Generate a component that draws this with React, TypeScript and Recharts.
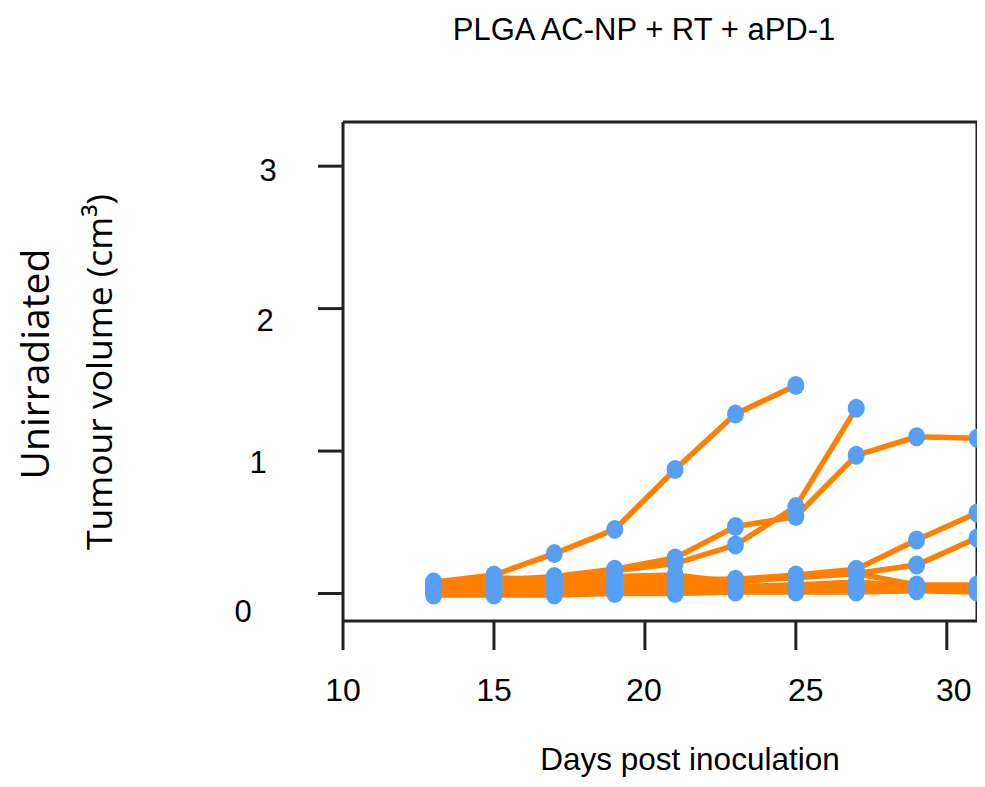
import React from 'react';
import { LineChart, Line, XAxis, YAxis, ReferenceLine } from 'recharts';

const days = [13, 15, 17, 19, 21, 23, 25, 27, 29, 31];
const mouseA = [0.08, 0.13, 0.28, 0.45, 0.87, 1.26, 1.46, null, null, null];
const mouseB = [0.06, 0.1, 0.11, 0.16, 0.21, 0.34, 0.61, 1.3, null, null];
const mouseC = [0.05, 0.09, 0.12, 0.17, 0.25, 0.47, 0.54, 0.97, 1.1, 1.09];
const mouseD = [0.04, 0.07, 0.08, 0.09, 0.1, 0.1, 0.13, 0.17, 0.375, 0.565];
const mouseE = [0.03, 0.05, 0.06, 0.07, 0.08, 0.09, 0.11, 0.14, 0.2, 0.39];
const mouseF = [0.08, 0.11, 0.1, 0.12, 0.13, 0.08, 0.12, 0.14, 0.06, 0.06];
const mouseG = [0.05, 0.07, 0.07, 0.06, 0.06, 0.05, 0.06, 0.08, 0.05, 0.05];
const mouseH = [0.02, 0.03, 0.04, 0.03, 0.04, 0.04, 0.04, 0.05, 0.04, 0.03];
const mouseI = [0.01, 0.01, 0.02, 0.02, 0.02, 0.03, 0.03, 0.03, 0.03, 0.02];
const mouseJ = [-0.01, -0.01, -0.01, 0.0, 0.0, 0.01, 0.01, 0.01, 0.02, 0.01];

const mice = [mouseA, mouseB, mouseC, mouseD, mouseE, mouseF, mouseG, mouseH, mouseI, mouseJ];
const xTicks = [10, 15, 20, 25, 30];
const yTicks = [0, 1, 2, 3];
const xDomain = [10, 31];
const yDomain = [-0.193, 3.31];

const title = 'PLGA AC-NP + RT + aPD-1';
const xLabel = 'Days post inoculation';
const yLabelTop = 'Unirradiated';
const yLabelBottom = 'Tumour volume (cm³)';

const data = days.map((d, i) => {
  const row: any = { day: d };
  mice.forEach((m, k) => {
    row['m' + k] = m[i];
  });
  return row;
});

const ORANGE = '#FF8000';
const BLUE = '#579FF5';
const AXIS = '#222';

const BlueDot = (props: any) => {
  const { cx, cy, value } = props;
  if (cx == null || cy == null || value == null || isNaN(cy)) return <g />;
  return <ellipse cx={cx} cy={cy} rx={8.5} ry={9.5} fill={BLUE} />;
};

const xOffsets: Record<number, number> = { 10: 0, 15: 0, 20: -1, 25: 10, 30: 7 };
const yOffsets: Record<number, [number, number]> = { 0: [-75, 18], 1: [-60, 11], 2: [-53, 12], 3: [-50, 4] };

const XTick = (props: any) => {
  const { x, y, payload } = props;
  const dx = xOffsets[payload.value] ?? 0;
  return (
    <text x={x + dx} y={y + 40} textAnchor="middle" dominantBaseline="central"
      fontFamily="'Liberation Sans', Arial, sans-serif" fontSize={32} fill="#000">
      {payload.value}
    </text>
  );
};

const YTick = (props: any) => {
  const { x, y, payload } = props;
  const off = yOffsets[payload.value] ?? [-50, 0];
  return (
    <text x={x + off[0]} y={y + off[1]} textAnchor="middle" dominantBaseline="central"
      fontFamily="'Liberation Sans', Arial, sans-serif" fontSize={31} fill="#000">
      {payload.value}
    </text>
  );
};

const textBase: React.CSSProperties = {
  position: 'absolute',
  whiteSpace: 'nowrap',
  color: '#000',
  lineHeight: 1,
};

export default function App() {
  return (
    <div style={{ position: 'relative', width: 977, height: 779 }}>
      <LineChart width={977} height={779} data={data}
        margin={{ top: 114, right: 8, left: 0, bottom: 106 }}>
        <XAxis dataKey="day" type="number" domain={xDomain} ticks={xTicks}
          allowDataOverflow={false} height={60} tickSize={29} tickMargin={0}
          axisLine={{ stroke: AXIS, strokeWidth: 3 }}
          tickLine={{ stroke: AXIS, strokeWidth: 3 }} tick={<XTick />} />
        <YAxis type="number" domain={yDomain} ticks={yTicks} width={335}
          tickSize={25} tickMargin={0}
          axisLine={{ stroke: AXIS, strokeWidth: 3 }}
          tickLine={{ stroke: AXIS, strokeWidth: 3 }} tick={<YTick />} />
        <ReferenceLine y={yDomain[1]} stroke={AXIS} strokeWidth={3} />
        <ReferenceLine x={xDomain[1]} stroke={AXIS} strokeWidth={3} />
        {mice.map((_, k) => (
          <Line key={'l' + k} dataKey={'m' + k} stroke={ORANGE} strokeWidth={5.5}
            dot={false} activeDot={false} isAnimationActive={false} connectNulls={false} />
        ))}
        {mice.map((_, k) => (
          <Line key={'d' + k} dataKey={'m' + k} stroke="none" strokeWidth={0}
            dot={(p: any) => <BlueDot key={p.key} {...p} />} activeDot={false}
            isAnimationActive={false} connectNulls={false} />
        ))}
      </LineChart>
      <div style={{ ...textBase, left: 636, top: 21, transform: 'translate(-50%, -50%)',
        fontFamily: "'Liberation Sans', Arial, sans-serif", fontSize: 31 }}>{title}</div>
      <div style={{ ...textBase, left: 682, top: 752, transform: 'translate(-50%, -50%)',
        fontFamily: "'Liberation Sans', Arial, sans-serif", fontSize: 31.5 }}>{xLabel}</div>
      <div style={{ ...textBase, left: 25, top: 356, transform: 'translate(-50%, -50%) rotate(-90deg)',
        fontFamily: "'Open Sans', sans-serif", fontSize: 39 }}>{yLabelTop}</div>
      <div style={{ ...textBase, left: 91, top: 364, transform: 'translate(-50%, -50%) rotate(-90deg)',
        fontFamily: "'Open Sans', sans-serif", fontSize: 35.5 }}>{yLabelBottom}</div>
    </div>
  );
}
